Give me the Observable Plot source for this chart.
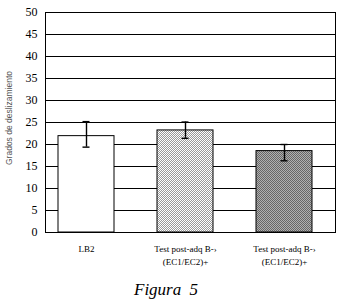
<!DOCTYPE html>
<html>
<head>
<meta charset="utf-8">
<script src="https://cdn.jsdelivr.net/npm/d3@7"></script>
<script src="https://cdn.jsdelivr.net/npm/@observablehq/plot@0.6"></script>
<style>
  body { margin: 0; background: #fff; }
  #chart svg { display: block; }
  #caption { font-family: "Liberation Serif", "DejaVu Serif", serif; font-style: italic; font-size: 17px; padding-left: 134px; margin-top: 10px; line-height: 20px; color: #000; word-spacing: 4px; }
</style>
</head>
<body>
<div id="chart"></div>
<div id="caption">Figura 5</div>
<script>
const categories = ["LB2", "T1", "T2"];
const categoryLabels = ["LB2", "Test post-adq B-›\n(EC1/EC2)+", "Test post-adq B-›\n(EC1/EC2)+"];
const values = [21.9, 23.2, 18.5];
const errLow = [19.4, 21.4, 16.3];
const errHigh = [25.2, 25.1, 20.0];
const yTicks = [0, 5, 10, 15, 20, 25, 30, 35, 40, 45, 50];
const fills = ["#ffffff", "url(#pat1)", "url(#pat2)"];
const yTitle = "Grados de deslizamiento";

const data = categories.map((c, i) => ({cat: c, v: values[i], lo: errLow[i], hi: errHigh[i], fill: fills[i]}));

const chart = Plot.plot({
  width: 346,
  height: 270,
  marginTop: 12,
  marginBottom: 38,
  marginLeft: 45,
  marginRight: 11,
  style: {fontFamily: "'Liberation Serif', serif", background: "#fff", color: "#000"},
  x: {domain: categories, paddingInner: 0.437, paddingOuter: 0.176, align: 0.36, label: null},
  y: {domain: [0, 50], label: null},
  marks: [
    Plot.ruleY(yTicks.filter(t => t > 0 && t < 50), {stroke: "#000", strokeWidth: 1, strokeOpacity: 1}),
    Plot.barY(data, {x: "cat", y: "v", fill: d => d.fill, stroke: "#000", strokeWidth: 1}),
    Plot.ruleX(data, {x: "cat", y1: "lo", y2: "hi", stroke: "#000", strokeWidth: 1.4}),
    Plot.tickY(data, {x: "cat", y: "lo", stroke: "#000", strokeWidth: 1.4, inset: 24.5}),
    Plot.tickY(data, {x: "cat", y: "hi", stroke: "#000", strokeWidth: 1.4, inset: 24.5}),
    Plot.frame({stroke: "#000", strokeWidth: 1}),
    Plot.axisY({ticks: yTicks, tickSize: 0, tickPadding: 8, fontSize: 12, label: null}),
    Plot.axisX({tickSize: 0, tickPadding: 10, fontSize: 9, label: null, lineHeight: 1.45,
      tickFormat: c => categoryLabels[categories.indexOf(c)]})
  ]
});

// patterns for hatched bars
const ns = "http://www.w3.org/2000/svg";
const defs = document.createElementNS(ns, "defs");
function makePattern(id, a, b) {
  const p = document.createElementNS(ns, "pattern");
  p.setAttribute("id", id);
  p.setAttribute("patternUnits", "userSpaceOnUse");
  p.setAttribute("width", 2);
  p.setAttribute("height", 2);
  [[0,0,a],[1,0,b],[0,1,b],[1,1,a]].forEach(([x,y,c]) => {
    const r = document.createElementNS(ns, "rect");
    r.setAttribute("x", x); r.setAttribute("y", y);
    r.setAttribute("width", 1); r.setAttribute("height", 1);
    r.setAttribute("fill", c);
    p.appendChild(r);
  });
  defs.appendChild(p);
}
makePattern("pat1", "#ffffff", "#9a9a9a");
makePattern("pat2", "#666666", "#b0b0b0");
chart.insertBefore(defs, chart.firstChild);

// y-axis title
const t = document.createElementNS(ns, "text");
t.setAttribute("transform", "translate(12,118) rotate(-90)");
t.setAttribute("text-anchor", "middle");
t.setAttribute("font-family", "'Liberation Sans', Arial, sans-serif");
t.setAttribute("font-size", "8.5");
t.setAttribute("fill", "#555");
t.textContent = yTitle;
chart.appendChild(t);

document.getElementById("chart").appendChild(chart);
</script>
</body>
</html>
